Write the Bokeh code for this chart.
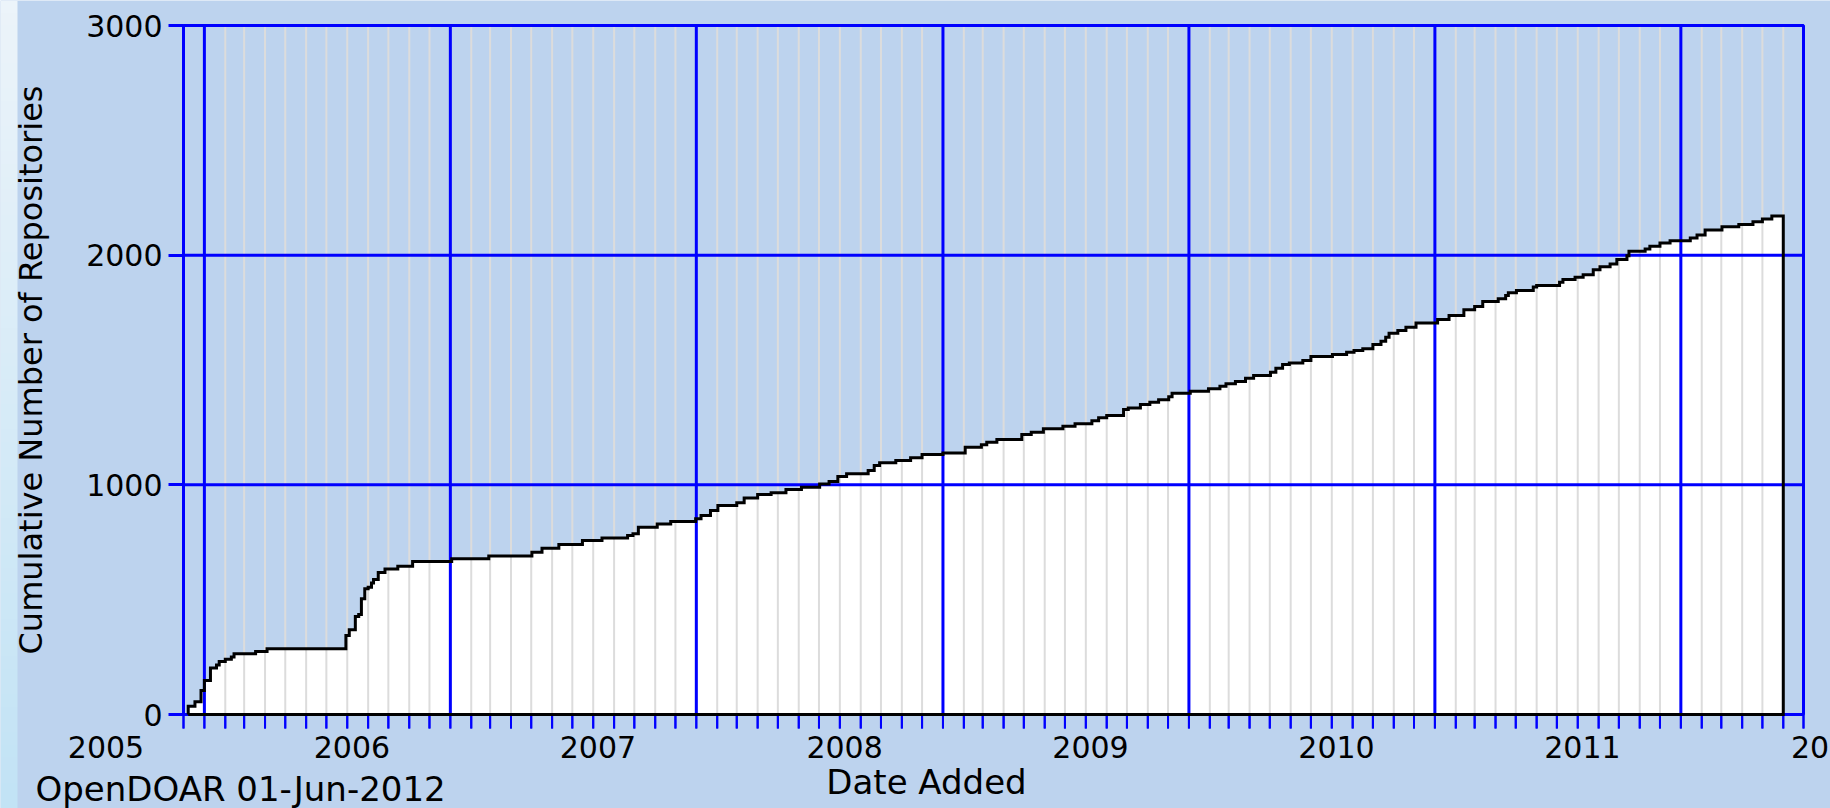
import numpy as np
import pandas as pd
from bokeh.plotting import figure
from bokeh.models import Range1d, FixedTicker, LinearAxis, Label, LabelSet, ColumnDataSource
from bokeh.core.properties import value
from bokeh.embed import file_html
from bokeh.resources import INLINE

# ---------------- data ----------------
step_dates = [
    "2005-12-08", "2005-12-18", "2005-12-27", "2006-01-01", "2006-01-10", "2006-01-19",
    "2006-01-23", "2006-02-01", "2006-02-10", "2006-02-14", "2006-03-18", "2006-04-04",
    "2006-07-30", "2006-08-04", "2006-08-13", "2006-08-18", "2006-08-22", "2006-08-27",
    "2006-09-01", "2006-09-06", "2006-09-09", "2006-09-16", "2006-09-26", "2006-10-15",
    "2006-11-06", "2007-01-03", "2007-02-27", "2007-05-02", "2007-05-17", "2007-06-11",
    "2007-07-16", "2007-08-14", "2007-09-21", "2007-09-29", "2007-10-07", "2007-11-04",
    "2007-11-24", "2007-12-31", "2008-01-08", "2008-01-22", "2008-02-02", "2008-03-01",
    "2008-03-12", "2008-04-01", "2008-04-21", "2008-05-13", "2008-06-05", "2008-07-02",
    "2008-07-16", "2008-07-29", "2008-08-11", "2008-09-12", "2008-09-21", "2008-09-29",
    "2008-10-23", "2008-11-14", "2008-12-01", "2009-01-01", "2009-02-03", "2009-02-27",
    "2009-03-07", "2009-03-22", "2009-04-28", "2009-05-12", "2009-05-30", "2009-06-28",
    "2009-07-16", "2009-08-10", "2009-08-20", "2009-09-01", "2009-09-26", "2009-10-03",
    "2009-10-21", "2009-11-04", "2009-11-17", "2009-12-02", "2009-12-07", "2010-01-03",
    "2010-01-30", "2010-02-16", "2010-02-25", "2010-03-11", "2010-03-26", "2010-04-07",
    "2010-05-02", "2010-05-10", "2010-05-20", "2010-05-30", "2010-06-19", "2010-07-01",
    "2010-08-02", "2010-08-23", "2010-09-03", "2010-09-16", "2010-10-01", "2010-10-13",
    "2010-10-20", "2010-10-25", "2010-11-07", "2010-11-19", "2010-12-04", "2011-01-05",
    "2011-01-22", "2011-02-13", "2011-03-01", "2011-03-13", "2011-04-05", "2011-04-16",
    "2011-04-20", "2011-05-02", "2011-05-27", "2011-06-01", "2011-07-05", "2011-07-10",
    "2011-07-28", "2011-08-09", "2011-08-24", "2011-09-03", "2011-09-18", "2011-09-28",
    "2011-10-13", "2011-10-16", "2011-11-09", "2011-11-16", "2011-12-01", "2011-12-16",
    "2012-01-15", "2012-01-25", "2012-02-06", "2012-03-02", "2012-03-27", "2012-04-17",
    "2012-05-01", "2012-05-15",
]
cum_repositories = [
    36, 56, 104, 148, 203, 216,
    231, 241, 250, 264, 274, 286,
    344, 369, 427, 435, 504, 547,
    554, 573, 588, 618, 634, 646,
    666, 678, 690, 707, 724, 740,
    758, 769, 779, 787, 815, 830,
    840, 852, 866, 888, 910, 922,
    943, 958, 965, 980, 990, 1004,
    1014, 1036, 1048, 1062, 1084, 1096,
    1106, 1118, 1132, 1139, 1164, 1175,
    1185, 1197, 1219, 1229, 1244, 1255,
    1266, 1279, 1292, 1302, 1328, 1335,
    1350, 1360, 1371, 1383, 1399, 1407,
    1418, 1429, 1440, 1450, 1464, 1476,
    1490, 1508, 1524, 1531, 1541, 1559,
    1567, 1577, 1585, 1592, 1611, 1625,
    1643, 1660, 1672, 1686, 1705, 1720,
    1737, 1762, 1776, 1798, 1810, 1824,
    1836, 1846, 1861, 1868, 1882, 1894,
    1904, 1915, 1937, 1950, 1962, 1981,
    1998, 2017, 2027, 2039, 2053, 2063,
    2075, 2088, 2110, 2124, 2133, 2146,
    2158, 2170,
]
snapshot_date = "2012-06-01"
x_start, x_end = "2005-12-01", "2012-07-01"
y_ticks = [0, 1000, 2000, 3000]
year_labels = ["2005", "2006", "2007", "2008", "2009", "2010", "2011", "2012"]
# where the original chart software printed each year label
year_label_dates = ["2005-08-08", "2006-08-08", "2007-08-08", "2008-08-08",
                    "2009-08-08", "2010-08-08", "2011-08-08", "2012-08-08"]
y_title = "Cumulative Number of Repositories"
x_title = "Date Added"
footer = "OpenDOAR 01-Jun-2012"


def ms(d):
    return int(pd.Timestamp(d).value // 10**6)


# ---------------- layout / style ----------------
W, H = 1830, 808
BOX_L, BOX_R, BOX_T, BOX_B = 183, 1803, 25, 714   # chart box in canvas pixels
TICK_LEN = 14                                      # px, x tick marks below the box
YEAR_LABEL_DROP = 32.5                             # px, year label centres below the box
BG = "#BDD3EE"
BLUE = "#0000FF"
GRAY = "#DCDCDC"
FONT = "DejaVu Sans"

t0, t1 = ms(x_start), ms(x_end)
ylo, yhi = y_ticks[0], y_ticks[-1]
kx = (t1 - t0) / (BOX_R - BOX_L)
ky = (yhi - ylo) / (BOX_B - BOX_T)
xr = Range1d(t0 - BOX_L * kx, t1 + (W - BOX_R) * kx)
yr = Range1d(ylo - (H - BOX_B) * ky, yhi + BOX_T * ky)

month_ticks = [ms(d) for d in pd.date_range(x_start, x_end, freq="MS")]
year_ticks = [ms(d) for d in pd.date_range(x_start, x_end, freq="YS")]
label_ticks = [ms(d) for d in year_label_dates]

# step polygon of the cumulative count
xs, ys = [ms(step_dates[0])], [0]
prev = 0
for d, v in zip(step_dates, cum_repositories):
    t = ms(d)
    xs += [t, t]
    ys += [prev, v]
    prev = v
t_end = ms(snapshot_date)
xs += [t_end, t_end, xs[0]]
ys += [prev, 0, 0]

p = figure(width=W, height=H, x_range=xr, y_range=yr, x_axis_type=None, y_axis_type=None,
           output_backend="svg", toolbar_location=None, min_border=0)
p.background_fill_color = BG
p.border_fill_color = BG
p.outline_line_color = None

# light gradient strip at the left edge of the page
n = 64
top_c = np.array([236, 244, 250])
bot_c = np.array([194, 227, 245])
frac = np.linspace(0, 1, n)[:, None]
cols = (bot_c + (top_c - bot_c) * frac).astype(np.uint8)
img = np.empty((n, 1), dtype=np.uint32)
view = img.view(dtype=np.uint8).reshape((n, 1, 4))
view[:, 0, :3] = cols
view[:, 0, 3] = 255
p.image_rgba(image=[img], x=xr.start, y=yr.start, dw=17 * kx, dh=yr.end - yr.start)

# white area under the step curve
p.patch(xs[:-1], ys[:-1], fill_color="white", line_color=None)

# grid lines inside the chart box
nm = len(month_ticks)
p.segment(x0=month_ticks, y0=[ylo] * nm, x1=month_ticks, y1=[yhi] * nm,
          line_color=GRAY, line_width=2)
p.segment(x0=year_ticks, y0=[ylo] * len(year_ticks), x1=year_ticks, y1=[yhi] * len(year_ticks),
          line_color=BLUE, line_width=3)
p.segment(x0=[t0] * len(y_ticks), y0=y_ticks, x1=[t1] * len(y_ticks), y1=y_ticks,
          line_color=BLUE, line_width=3)
p.quad(left=t0, right=t1, bottom=ylo, top=yhi, fill_color=None, line_color=BLUE, line_width=3)

# monthly blue tick marks below the box (thin bars)
p.quad(left=[t - 1.0 * kx for t in month_ticks], right=[t + 1.0 * kx for t in month_ticks],
       top=[ylo] * nm, bottom=[ylo - TICK_LEN * ky] * nm,
       fill_color=BLUE, line_color=None)
p.segment(x0=month_ticks, y0=[ylo] * nm, x1=month_ticks, y1=[ylo - TICK_LEN * ky] * nm,
          line_color=BLUE, line_width=2)

# black step outline
p.line(xs, ys, line_color="black", line_width=3, line_join="miter")

# year labels where the original chart printed them
lab_src = ColumnDataSource(dict(x=label_ticks,
                                y=[ylo - YEAR_LABEL_DROP * ky] * len(label_ticks),
                                text=year_labels))
p.add_layout(LabelSet(x="x", y="y", text="text", source=lab_src,
                      text_align="center", text_baseline="middle",
                      text_font=value(FONT), text_font_size="30px", text_color="black"))

# y axis
ya = LinearAxis(fixed_location=t0, bounds=(ylo, yhi), ticker=FixedTicker(ticks=y_ticks),
                axis_line_color=None, major_tick_in=0, major_tick_out=15,
                major_tick_line_color=BLUE, major_tick_line_width=3,
                minor_tick_line_color=None, major_label_standoff=6,
                major_label_text_font=FONT, major_label_text_font_size="30px",
                major_label_text_color="black",
                axis_label=y_title, axis_label_text_font=FONT, axis_label_text_font_size="32px",
                axis_label_text_font_style="normal", axis_label_text_color="black",
                axis_label_standoff=33)
if "background_fill_color" in ya.properties():
    ya.background_fill_color = None
p.add_layout(ya, "left")

p.add_layout(Label(x=926, y=H - 781, x_units="screen", y_units="screen", text=x_title,
                   text_align="center", text_baseline="middle",
                   text_font=FONT, text_font_size="34px", text_color="black"))
p.add_layout(Label(x=35, y=H - 788, x_units="screen", y_units="screen", text=footer,
                   text_align="left", text_baseline="middle",
                   text_font=FONT, text_font_size="34px", text_color="black"))

open("out.html", "w").write(file_html(p, INLINE))
